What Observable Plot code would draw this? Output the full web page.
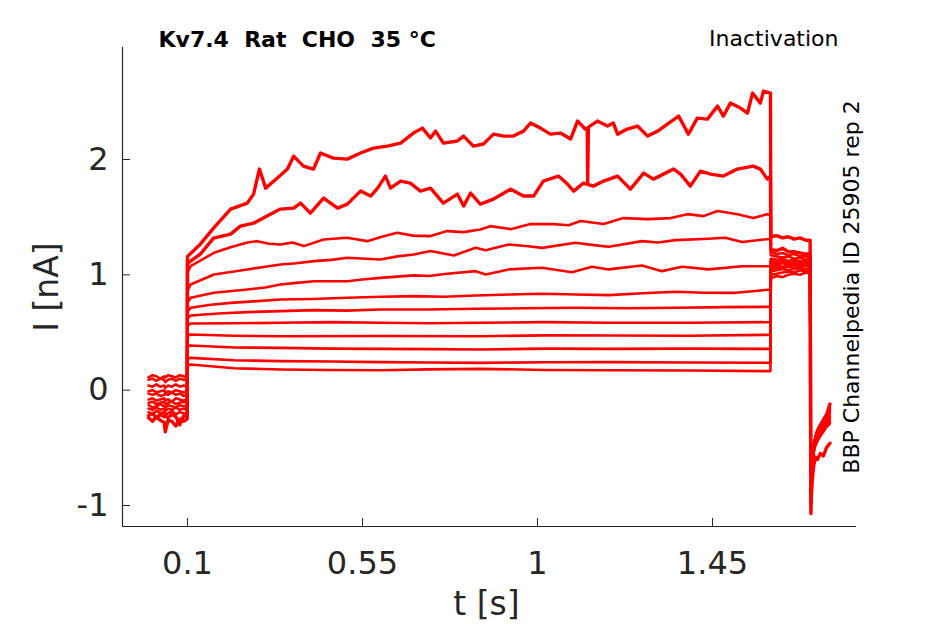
<!DOCTYPE html>
<html>
<head>
<meta charset="utf-8">
<script src="https://cdn.jsdelivr.net/npm/d3@7"></script>
<script src="https://cdn.jsdelivr.net/npm/@observablehq/plot@0.6"></script>
<style>
  html, body { margin: 0; padding: 0; background: #fff; }
  svg text { white-space: pre; }
</style>
</head>
<body>
<div id="chart"></div>
<script>
// ---- text ----
const titleText = "Kv7.4  Rat  CHO  35 °C";
const protocolText = "Inactivation";
const sourceText = "BBP Channelpedia ID 25905 rep 2";
const xLabel = "t [s]";
const yLabel = "I [nA]";

// ---- axes ----
const xTicks = [0.1, 0.55, 1, 1.45];
const yTicks = [-1, 0, 1, 2];
const xDomain = [-0.0671, 1.8203];
const yDomain = [-1.182, 2.971];

// ---- shared time grids (s) ----
const preT = [0, 0.01, 0.02, 0.03, 0.04, 0.043, 0.05, 0.06, 0.07, 0.08, 0.09, 0.099];
const postT = [1.6, 1.615, 1.63, 1.645, 1.66, 1.675, 1.69, 1.701];
const tailT = [1.703, 1.706, 1.71, 1.715, 1.72, 1.727, 1.735, 1.743, 1.752];

// ---- holding segment (nA), one row per sweep ----
const preValues = [
  [-0.24,-0.27,-0.23,-0.26,-0.28,-0.36,-0.26,-0.27,-0.31,-0.25,-0.27,-0.25],
  [-0.22,-0.20,-0.24,-0.21,-0.23,-0.22,-0.24,-0.21,-0.23,-0.30,-0.22,-0.23],
  [-0.19,-0.21,-0.18,-0.20,-0.19,-0.21,-0.20,-0.18,-0.21,-0.19,-0.20,-0.21],
  [0.11,0.13,0.12,0.10,0.12,0.11,0.13,0.12,0.11,0.13,0.12,0.11],
  [0.09,0.10,0.08,0.10,0.09,0.07,0.09,0.10,0.08,0.10,0.09,0.09],
  [-0.16,-0.17,-0.15,-0.17,-0.16,-0.18,-0.16,-0.17,-0.15,-0.17,-0.16,-0.17],
  [0.04,0.03,0.05,0.03,0.04,0.02,0.04,0.03,0.05,0.03,0.04,0.03],
  [-0.01,0.00,-0.02,-0.01,0.00,-0.02,-0.01,-0.02,0.00,-0.01,-0.02,-0.01],
  [-0.13,-0.15,-0.14,-0.12,-0.14,-0.15,-0.13,-0.14,-0.15,-0.13,-0.14,-0.14],
  [-0.03,-0.04,-0.03,-0.05,-0.04,-0.03,-0.04,-0.02,-0.04,-0.03,-0.05,-0.04],
  [-0.08,-0.07,-0.09,-0.08,-0.07,-0.09,-0.08,-0.10,-0.07,-0.08,-0.09,-0.08],
  [-0.11,-0.10,-0.12,-0.11,-0.10,-0.12,-0.11,-0.10,-0.12,-0.11,-0.10,-0.11]
];

// ---- conditioning step segments [t, I] ----
const step1 = [[0.1,1.16],[0.133,1.266],[0.167,1.405],[0.211,1.57],[0.254,1.622],[0.27,1.70],[0.285,1.917],[0.301,1.752],[0.331,1.839],[0.357,1.917],[0.373,2.029],[0.398,1.943],[0.424,1.917],[0.442,2.056],[0.475,2.012],[0.511,2.003],[0.545,2.056],[0.578,2.099],[0.614,2.116],[0.648,2.142],[0.681,2.229],[0.704,2.272],[0.725,2.186],[0.738,2.246],[0.758,2.142],[0.794,2.16],[0.81,2.203],[0.835,2.116],[0.861,2.134],[0.887,2.22],[0.913,2.203],[0.938,2.203],[0.964,2.246],[0.982,2.316],[1.008,2.272],[1.033,2.22],[1.059,2.229],[1.085,2.177],[1.103,2.333],[1.123,2.264],[1.128,2.27],[1.129,1.79],[1.131,2.28],[1.154,2.333],[1.18,2.29],[1.195,2.316],[1.206,2.22],[1.231,2.264],[1.257,2.29],[1.283,2.203],[1.309,2.246],[1.334,2.307],[1.363,2.376],[1.388,2.22],[1.411,2.359],[1.437,2.35],[1.463,2.463],[1.478,2.376],[1.496,2.489],[1.522,2.446],[1.54,2.402],[1.553,2.576],[1.573,2.489],[1.581,2.593],[1.599,2.576]];
const step2 = [[0.1,1.10],[0.133,1.18],[0.167,1.318],[0.211,1.353],[0.236,1.422],[0.27,1.448],[0.313,1.526],[0.339,1.57],[0.373,1.578],[0.391,1.622],[0.416,1.535],[0.45,1.665],[0.486,1.578],[0.511,1.613],[0.545,1.726],[0.571,1.683],[0.589,1.752],[0.609,1.856],[0.622,1.752],[0.648,1.813],[0.673,1.795],[0.699,1.726],[0.725,1.752],[0.758,1.622],[0.794,1.70],[0.81,1.596],[0.828,1.709],[0.853,1.613],[0.887,1.657],[0.931,1.743],[0.964,1.683],[0.99,1.683],[1.015,1.813],[1.054,1.856],[1.077,1.787],[1.093,1.726],[1.118,1.795],[1.144,1.769],[1.17,1.813],[1.206,1.856],[1.239,1.743],[1.273,1.882],[1.298,1.83],[1.324,1.873],[1.35,1.917],[1.368,1.873],[1.393,1.769],[1.419,1.899],[1.445,1.873],[1.478,1.856],[1.514,1.917],[1.555,1.943],[1.573,1.917],[1.591,1.83],[1.599,1.856]];
const step3 = [[0.1,1.02],[0.108,1.075],[0.168,1.191],[0.211,1.24],[0.254,1.28],[0.279,1.292],[0.31,1.27],[0.339,1.263],[0.37,1.28],[0.399,1.249],[0.45,1.307],[0.511,1.321],[0.562,1.292],[0.6,1.33],[0.639,1.365],[0.68,1.34],[0.725,1.336],[0.768,1.379],[0.81,1.37],[0.853,1.393],[0.879,1.422],[0.931,1.396],[0.982,1.44],[1.041,1.44],[1.08,1.43],[1.111,1.466],[1.17,1.44],[1.221,1.492],[1.283,1.483],[1.342,1.492],[1.386,1.526],[1.427,1.509],[1.463,1.553],[1.514,1.526],[1.555,1.492],[1.591,1.526],[1.599,1.52]];
const step4 = [[0.1,0.86],[0.108,0.916],[0.168,1.003],[0.254,1.047],[0.3,1.07],[0.339,1.09],[0.38,1.1],[0.425,1.119],[0.47,1.13],[0.511,1.148],[0.596,1.133],[0.64,1.16],[0.682,1.177],[0.725,1.206],[0.785,1.168],[0.841,1.234],[0.867,1.214],[0.926,1.263],[0.97,1.25],[1.012,1.234],[1.098,1.278],[1.14,1.26],[1.183,1.243],[1.269,1.292],[1.31,1.28],[1.355,1.301],[1.44,1.313],[1.483,1.321],[1.526,1.284],[1.599,1.313]];
const step5 = [[0.1,0.76],[0.108,0.801],[0.168,0.844],[0.254,0.873],[0.3,0.89],[0.339,0.916],[0.38,0.93],[0.425,0.945],[0.511,0.945],[0.55,0.96],[0.596,0.974],[0.682,0.995],[0.72,0.99],[0.768,1.009],[0.841,1.032],[0.867,1.003],[0.926,1.047],[1.012,1.061],[1.089,1.023],[1.14,1.07],[1.183,1.047],[1.269,1.081],[1.32,1.032],[1.372,1.07],[1.44,1.047],[1.526,1.075],[1.599,1.075]];
const step6 = [[0.1,0.68],[0.108,0.714],[0.16,0.74],[0.211,0.757],[0.27,0.77],[0.339,0.786],[0.42,0.79],[0.511,0.801],[0.6,0.81],[0.682,0.815],[0.76,0.81],[0.841,0.821],[0.93,0.83],[1.012,0.836],[1.1,0.83],[1.183,0.824],[1.27,0.84],[1.355,0.853],[1.43,0.845],[1.509,0.844],[1.56,0.86],[1.599,0.873]];
const step7 = [[0.1,0.62],[0.108,0.648],[0.18,0.665],[0.254,0.677],[0.34,0.685],[0.425,0.694],[0.51,0.69],[0.596,0.70],[0.72,0.70],[0.841,0.706],[0.97,0.71],[1.098,0.714],[1.23,0.71],[1.355,0.714],[1.48,0.72],[1.599,0.723]];
const step8 = [[0.1,0.56],[0.108,0.578],[0.22,0.58],[0.339,0.584],[0.47,0.59],[0.596,0.584],[0.72,0.58],[0.853,0.584],[1.02,0.59],[1.183,0.584],[1.39,0.585],[1.599,0.59]];
const step9 = [[0.1,0.47],[0.108,0.483],[0.22,0.472],[0.339,0.468],[0.6,0.47],[0.853,0.468],[1.02,0.475],[1.183,0.474],[1.39,0.472],[1.599,0.48]];
const step10 = [[0.1,0.38],[0.108,0.387],[0.22,0.37],[0.339,0.367],[0.47,0.36],[0.596,0.358],[0.72,0.356],[0.853,0.353],[1.02,0.36],[1.183,0.358],[1.39,0.36],[1.599,0.358]];
const step11 = [[0.1,0.27],[0.108,0.28],[0.22,0.26],[0.339,0.252],[0.47,0.248],[0.596,0.243],[0.72,0.24],[0.853,0.237],[1.02,0.242],[1.183,0.243],[1.39,0.24],[1.599,0.237]];
const step12 = [[0.1,0.21],[0.108,0.223],[0.22,0.19],[0.339,0.179],[0.47,0.175],[0.596,0.173],[0.72,0.18],[0.853,0.185],[1.02,0.175],[1.183,0.173],[1.39,0.17],[1.599,0.165]];

// ---- test pulse segment (nA) ----
const postValues = [
  [1.33,1.34,1.32,1.33,1.31,1.32,1.30,1.30],
  [1.22,1.21,1.23,1.20,1.20,1.19,1.18,1.18],
  [1.20,1.18,1.19,1.17,1.18,1.16,1.16,1.15],
  [1.17,1.16,1.15,1.16,1.14,1.15,1.13,1.14],
  [1.14,1.13,1.14,1.12,1.13,1.12,1.12,1.11],
  [1.12,1.11,1.12,1.10,1.11,1.10,1.11,1.10],
  [1.10,1.09,1.10,1.09,1.10,1.09,1.10,1.09],
  [1.07,1.08,1.07,1.08,1.08,1.09,1.08,1.09],
  [1.05,1.06,1.06,1.07,1.06,1.07,1.08,1.07],
  [1.03,1.04,1.05,1.04,1.05,1.06,1.05,1.06],
  [1.00,1.01,1.02,1.03,1.02,1.04,1.03,1.04],
  [0.97,0.99,0.98,1.00,1.01,1.00,1.02,1.01]
];

// ---- tail segment (nA) ----
const tailValues = [
  [-0.95,-0.80,-0.66,-0.58,-0.60,-0.55,-0.57,-0.50,-0.46],
  [-1.07,-0.70,-0.52,-0.42,-0.36,-0.31,-0.27,-0.22,-0.12],
  [-1.00,-0.68,-0.50,-0.41,-0.35,-0.30,-0.25,-0.21,-0.13],
  [-0.98,-0.66,-0.49,-0.40,-0.34,-0.30,-0.26,-0.22,-0.15],
  [-0.95,-0.64,-0.48,-0.40,-0.35,-0.31,-0.27,-0.23,-0.16],
  [-0.93,-0.63,-0.47,-0.41,-0.36,-0.32,-0.28,-0.24,-0.18],
  [-0.92,-0.62,-0.47,-0.42,-0.37,-0.33,-0.29,-0.25,-0.19],
  [-0.90,-0.62,-0.48,-0.43,-0.38,-0.34,-0.30,-0.26,-0.21],
  [-0.88,-0.61,-0.49,-0.44,-0.39,-0.35,-0.31,-0.27,-0.23],
  [-0.86,-0.62,-0.50,-0.45,-0.40,-0.36,-0.32,-0.29,-0.25],
  [-0.85,-0.63,-0.52,-0.46,-0.42,-0.38,-0.34,-0.30,-0.27],
  [-0.84,-0.64,-0.54,-0.48,-0.44,-0.40,-0.36,-0.32,-0.29]
];

const stepSegments = [step1, step2, step3, step4, step5, step6, step7, step8, step9, step10, step11, step12];

// ---- build the table for Plot ----
const rows = [];
stepSegments.forEach((step, i) => {
  const w = i < 2 ? 3.4 : 2.6;
  preT.forEach((t, j) => rows.push({sweep: i, t, I: preValues[i][j], w}));
  step.forEach(([t, I]) => rows.push({sweep: i, t, I, w}));
  postT.forEach((t, j) => rows.push({sweep: i, t, I: postValues[i][j], w}));
  tailT.forEach((t, j) => rows.push({sweep: i, t, I: tailValues[i][j], w}));
});

const axisColor = "#262626";

const chart = Plot.plot({
  width: 945,
  height: 624,
  marginLeft: 122,
  marginRight: 89,
  marginTop: 47,
  marginBottom: 98,
  style: {fontFamily: "DejaVu Sans", background: "#ffffff", color: axisColor, overflow: "visible"},
  x: {domain: xDomain},
  y: {domain: yDomain},
  marks: [
    Plot.line(rows, {x: "t", y: "I", z: "sweep", stroke: "#ff0000", strokeWidth: "w", strokeLinejoin: "round"}),
    Plot.ruleX([xDomain[0]], {stroke: axisColor, strokeWidth: 1.2}),
    Plot.ruleY([yDomain[0]], {stroke: axisColor, strokeWidth: 1.2}),
    Plot.axisX({ticks: xTicks, tickSize: -8, tickPadding: 33, fontSize: 32, tickFormat: d => String(d), label: null, stroke: axisColor, fill: axisColor}),
    Plot.axisY({ticks: yTicks, tickSize: -8, tickPadding: 22, fontSize: 32, tickFormat: d => String(d), label: null, stroke: axisColor, fill: axisColor}),
    Plot.text([xLabel], {frameAnchor: "bottom", dx: -3, dy: 88, lineAnchor: "bottom", textAnchor: "middle", fontSize: 33, fill: axisColor}),
    Plot.text([yLabel], {frameAnchor: "left", dx: -65, rotate: -90, lineAnchor: "bottom", textAnchor: "middle", fontSize: 33, fill: axisColor}),
    Plot.text([titleText], {frameAnchor: "top-left", dx: 36, dy: -1, lineAnchor: "bottom", textAnchor: "start", fontSize: 22, fontWeight: "bold", fill: "#000"}),
    Plot.text([protocolText], {frameAnchor: "top-right", dx: -18, dy: -2, lineAnchor: "bottom", textAnchor: "end", fontSize: 22, fill: "#000"}),
    Plot.text([sourceText], {frameAnchor: "right", dx: 2, rotate: -90, lineAnchor: "bottom", textAnchor: "middle", fontSize: 22, fill: "#000"})
  ]
});

document.getElementById("chart").appendChild(chart);
</script>
</body>
</html>
